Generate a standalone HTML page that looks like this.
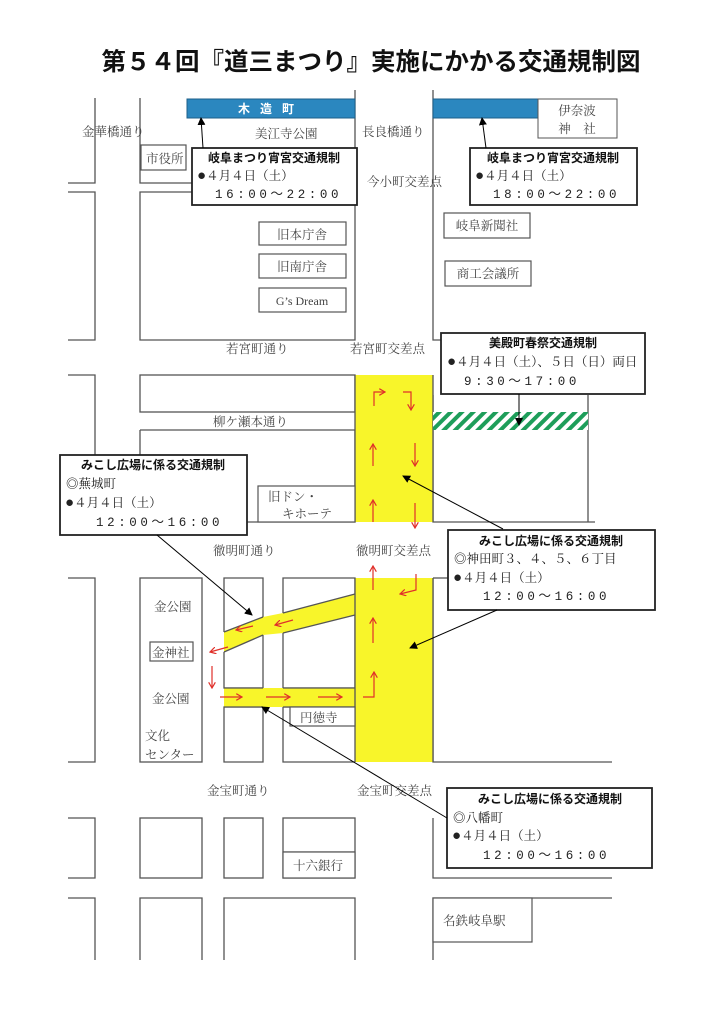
<!DOCTYPE html>
<html><head><meta charset="utf-8"><style>
html,body{margin:0;padding:0;background:#fff;}
svg{display:block}
.l{font-family:"Liberation Serif","Noto Serif CJK SC",serif;font-size:12.5px;fill:#444;}
.b{font-family:"Liberation Sans","Noto Sans CJK JP",sans-serif;font-size:12px;font-weight:bold;fill:#111;}
.t{font-family:"Liberation Serif","Noto Serif CJK JP",serif;font-size:12.5px;fill:#222;}
.m{font-family:"Liberation Mono","Noto Sans CJK JP",monospace;font-size:12.5px;fill:#222;letter-spacing:3.6px;}
</style></head><body>
<svg width="724" height="1024" viewBox="0 0 724 1024" xmlns="http://www.w3.org/2000/svg">
<defs>
<pattern id="gh" width="8" height="8" patternUnits="userSpaceOnUse" patternTransform="rotate(45)">
<rect width="8" height="8" fill="#fff"/><rect width="4" height="8" fill="#1e9e5a"/></pattern>
<marker id="ah" markerWidth="8" markerHeight="8" refX="7" refY="4" orient="auto" markerUnits="userSpaceOnUse"><path d="M0,0 L8,4 L0,8 z" fill="#000"/></marker>
<marker id="rh" markerWidth="7" markerHeight="7" refX="6" refY="3.5" orient="auto" markerUnits="userSpaceOnUse"><path d="M0,0 L6,3.5 L0,7" fill="none" stroke="#e0302a" stroke-width="1.2"/></marker>
</defs>
<text x="371" y="70" text-anchor="middle" style="font-family:'Liberation Sans','Noto Sans CJK JP',sans-serif;font-size:24.5px;font-weight:bold;fill:#111">第５４回『道三まつり』実施にかかる交通規制図</text>

<g fill="none" stroke="#555" stroke-width="1.3">
<path d="M68,183 H95 V98"/><path d="M140,98 V183 H192"/>
<path d="M355,90 V340 H140 V192 H192"/>
<path d="M68,192 H95 V340 H68"/>
<path d="M433,90 V340 H588"/>
<path d="M68,375 H95 V455"/><rect x="140" y="375" width="215" height="37"/>
<path d="M140,430 H355 V522 H247"/><path d="M140,430 V455"/>
<path d="M433,395 V522 H595"/><path d="M588,395 V522"/>
<path d="M68,578 H95 V762 H68"/>
<rect x="140" y="578" width="62" height="184"/>
<path d="M224,632 V578 H263 V617"/>
<path d="M224,652 V688 H263 V635"/>
<path d="M283,613 V578 H355 V594"/>
<path d="M283,633 V688 H355 V615"/>
<path d="M224,707 V762 H263 V707 Z"/>
<path d="M283,707 V762 H355"/><path d="M283,707 H355"/>
<path d="M433,578 H448"/><path d="M433,578 V762 H612"/>
<path d="M68,818 H95 V878 H68"/><rect x="140" y="818" width="62" height="60"/>
<rect x="224" y="818" width="39" height="60"/><rect x="283" y="818" width="72" height="60"/>
<path d="M283,852 H355"/>
<path d="M433,818 V878 H612"/>
<path d="M68,898 H95 V960"/><path d="M140,960 V898 H202 V960"/>
<path d="M224,960 V898 H355 V960"/>
<path d="M612,898 H433 V960"/>
</g>

<g fill="#f8f52a">
<rect x="355" y="375" width="78" height="147"/>
<rect x="355" y="578" width="78" height="184"/>
<polygon points="224,632 263,617 283,613 355,594 355,615 283,633 263,635 224,652"/>
<rect x="224" y="688" width="131" height="19"/>
</g>
<g stroke="#555" stroke-width="1.3" fill="none">
<path d="M355,375 V522"/><path d="M433,375 V522"/><path d="M355,578 V762"/><path d="M433,578 V762"/>
<path d="M224,632 L263,617"/><path d="M283,613 L355,594"/><path d="M224,652 L263,635"/><path d="M283,633 L355,615"/>
<path d="M224,688 H263"/><path d="M283,688 H355"/><path d="M224,707 H263"/><path d="M283,707 H355"/>
</g>

<rect x="187" y="99" width="168" height="19" fill="#2b87bf" stroke="#1d5f8a"/>
<text x="271" y="113" text-anchor="middle" class="b" style="fill:#fff;letter-spacing:10px">木造町</text>
<rect x="433" y="99" width="105" height="19" fill="#2b87bf" stroke="#1d5f8a"/>
<rect x="538" y="99" width="79" height="39" fill="#fff" stroke="#555"/>
<text x="577" y="115" text-anchor="middle" class="l">伊奈波</text>
<text x="577" y="133" text-anchor="middle" class="l">神　社</text>
<rect x="433" y="412" width="155" height="18" fill="url(#gh)"/>

<g fill="#fff" stroke="#555" stroke-width="1.2">
<rect x="141" y="145" width="45" height="25"/>
<rect x="259" y="222" width="87" height="23"/><rect x="259" y="254" width="87" height="24"/><rect x="259" y="288" width="87" height="24"/>
<rect x="444" y="213" width="86" height="25"/><rect x="445" y="261" width="86" height="25"/>
<rect x="258" y="486" width="97" height="36"/>
<rect x="150" y="642" width="43" height="19"/>
<rect x="290" y="707" width="65" height="19"/>
<rect x="283" y="852" width="72" height="26"/>
<rect x="433" y="898" width="99" height="44"/>
</g>
<g class="l">
<text x="82" y="136">金華橋通り</text><text x="146" y="163">市役所</text>
<text x="255" y="138">美江寺公園</text>
<text x="302" y="239" text-anchor="middle">旧本庁舎</text><text x="302" y="271" text-anchor="middle">旧南庁舎</text>
<text x="302" y="305" text-anchor="middle" style="font-size:12px">G’s Dream</text>
<text x="362" y="136">長良橋通り</text><text x="367" y="186">今小町交差点</text>
<text x="487" y="230" text-anchor="middle">岐阜新聞社</text><text x="488" y="278" text-anchor="middle">商工会議所</text>
<text x="226" y="353">若宮町通り</text><text x="350" y="353">若宮町交差点</text>
<text x="213" y="426">柳ケ瀬本通り</text>
<text x="268" y="501">旧ドン・</text><text x="282" y="518">キホーテ</text>
<text x="213" y="555">徹明町通り</text><text x="356" y="555">徹明町交差点</text>
<text x="154" y="611">金公園</text><text x="152" y="657">金神社</text><text x="152" y="703">金公園</text>
<text x="145" y="740">文化</text><text x="145" y="759">センター</text>
<text x="300" y="722">円徳寺</text>
<text x="207" y="795">金宝町通り</text><text x="357" y="795">金宝町交差点</text>
<text x="293" y="870">十六銀行</text>
<text x="443" y="925">名鉄岐阜駅</text>
</g>

<g stroke="#e0302a" stroke-width="1.2" fill="none" marker-end="url(#rh)">
<path d="M374,406 V392 H385"/><path d="M403,392 H411 V410"/>
<path d="M373,466 V444"/><path d="M415,443 V466"/>
<path d="M373,522 V500"/><path d="M415,503 V528"/>
<path d="M373,590 V566"/><path d="M416,574 V590 L400,594"/>
<path d="M373,643 V618"/>
<path d="M293,620 L275,625"/><path d="M228,647 L210,652"/>
<path d="M253,626 L236,630"/>
<path d="M212,666 V688"/>
<path d="M220,697 H242"/><path d="M266,697 H290"/><path d="M318,697 H342"/>
<path d="M363,697 H374 V672"/>
</g>

<g fill="#fff" stroke="#222" stroke-width="1.8">
<rect x="192" y="148" width="165" height="57"/>
<rect x="470" y="148" width="167" height="57"/>
<rect x="441" y="333" width="204" height="61"/>
<rect x="60" y="455" width="187" height="80"/>
<rect x="448" y="530" width="207" height="80"/>
<rect x="447" y="788" width="205" height="80"/>
</g>
<g stroke="#000" stroke-width="1" fill="none" marker-end="url(#ah)">
<path d="M203,148 L201,118"/><path d="M486,148 L482,118"/>
<path d="M519,394 V425"/>
<path d="M157,535 L252,615"/>
<path d="M503,529 L403,476"/>
<path d="M497,610 L410,648"/>
<path d="M447,818 L262,707"/>
</g>
<g>
<text x="274" y="162" text-anchor="middle" class="b">岐阜まつり宵宮交通規制</text>
<text x="197" y="180" class="t"><tspan style="font-size:15px">●</tspan>４月４日（土）</text>
<text x="215" y="198" class="m">16:00～22:00</text>
<text x="553" y="162" text-anchor="middle" class="b">岐阜まつり宵宮交通規制</text>
<text x="475" y="180" class="t"><tspan style="font-size:15px">●</tspan>４月４日（土）</text>
<text x="493" y="198" class="m">18:00～22:00</text>
<text x="543" y="347" text-anchor="middle" class="b">美殿町春祭交通規制</text>
<text x="447" y="366" class="t"><tspan style="font-size:15px">●</tspan>４月４日（土）、５日（日）両日</text>
<text x="464" y="385" class="m">9:30～17:00</text>
<text x="153" y="469" text-anchor="middle" class="b">みこし広場に係る交通規制</text>
<text x="66" y="488" class="t">◎蕪城町</text>
<text x="65" y="507" class="t"><tspan style="font-size:15px">●</tspan>４月４日（土）</text>
<text x="96" y="526" class="m">12:00～16:00</text>
<text x="551" y="545" text-anchor="middle" class="b">みこし広場に係る交通規制</text>
<text x="454" y="563" class="t">◎神田町３、４、５、６丁目</text>
<text x="453" y="582" class="t"><tspan style="font-size:15px">●</tspan>４月４日（土）</text>
<text x="483" y="600" class="m">12:00～16:00</text>
<text x="550" y="803" text-anchor="middle" class="b">みこし広場に係る交通規制</text>
<text x="453" y="822" class="t">◎八幡町</text>
<text x="452" y="840" class="t"><tspan style="font-size:15px">●</tspan>４月４日（土）</text>
<text x="483" y="859" class="m">12:00～16:00</text>
</g>
</svg>
</body></html>
